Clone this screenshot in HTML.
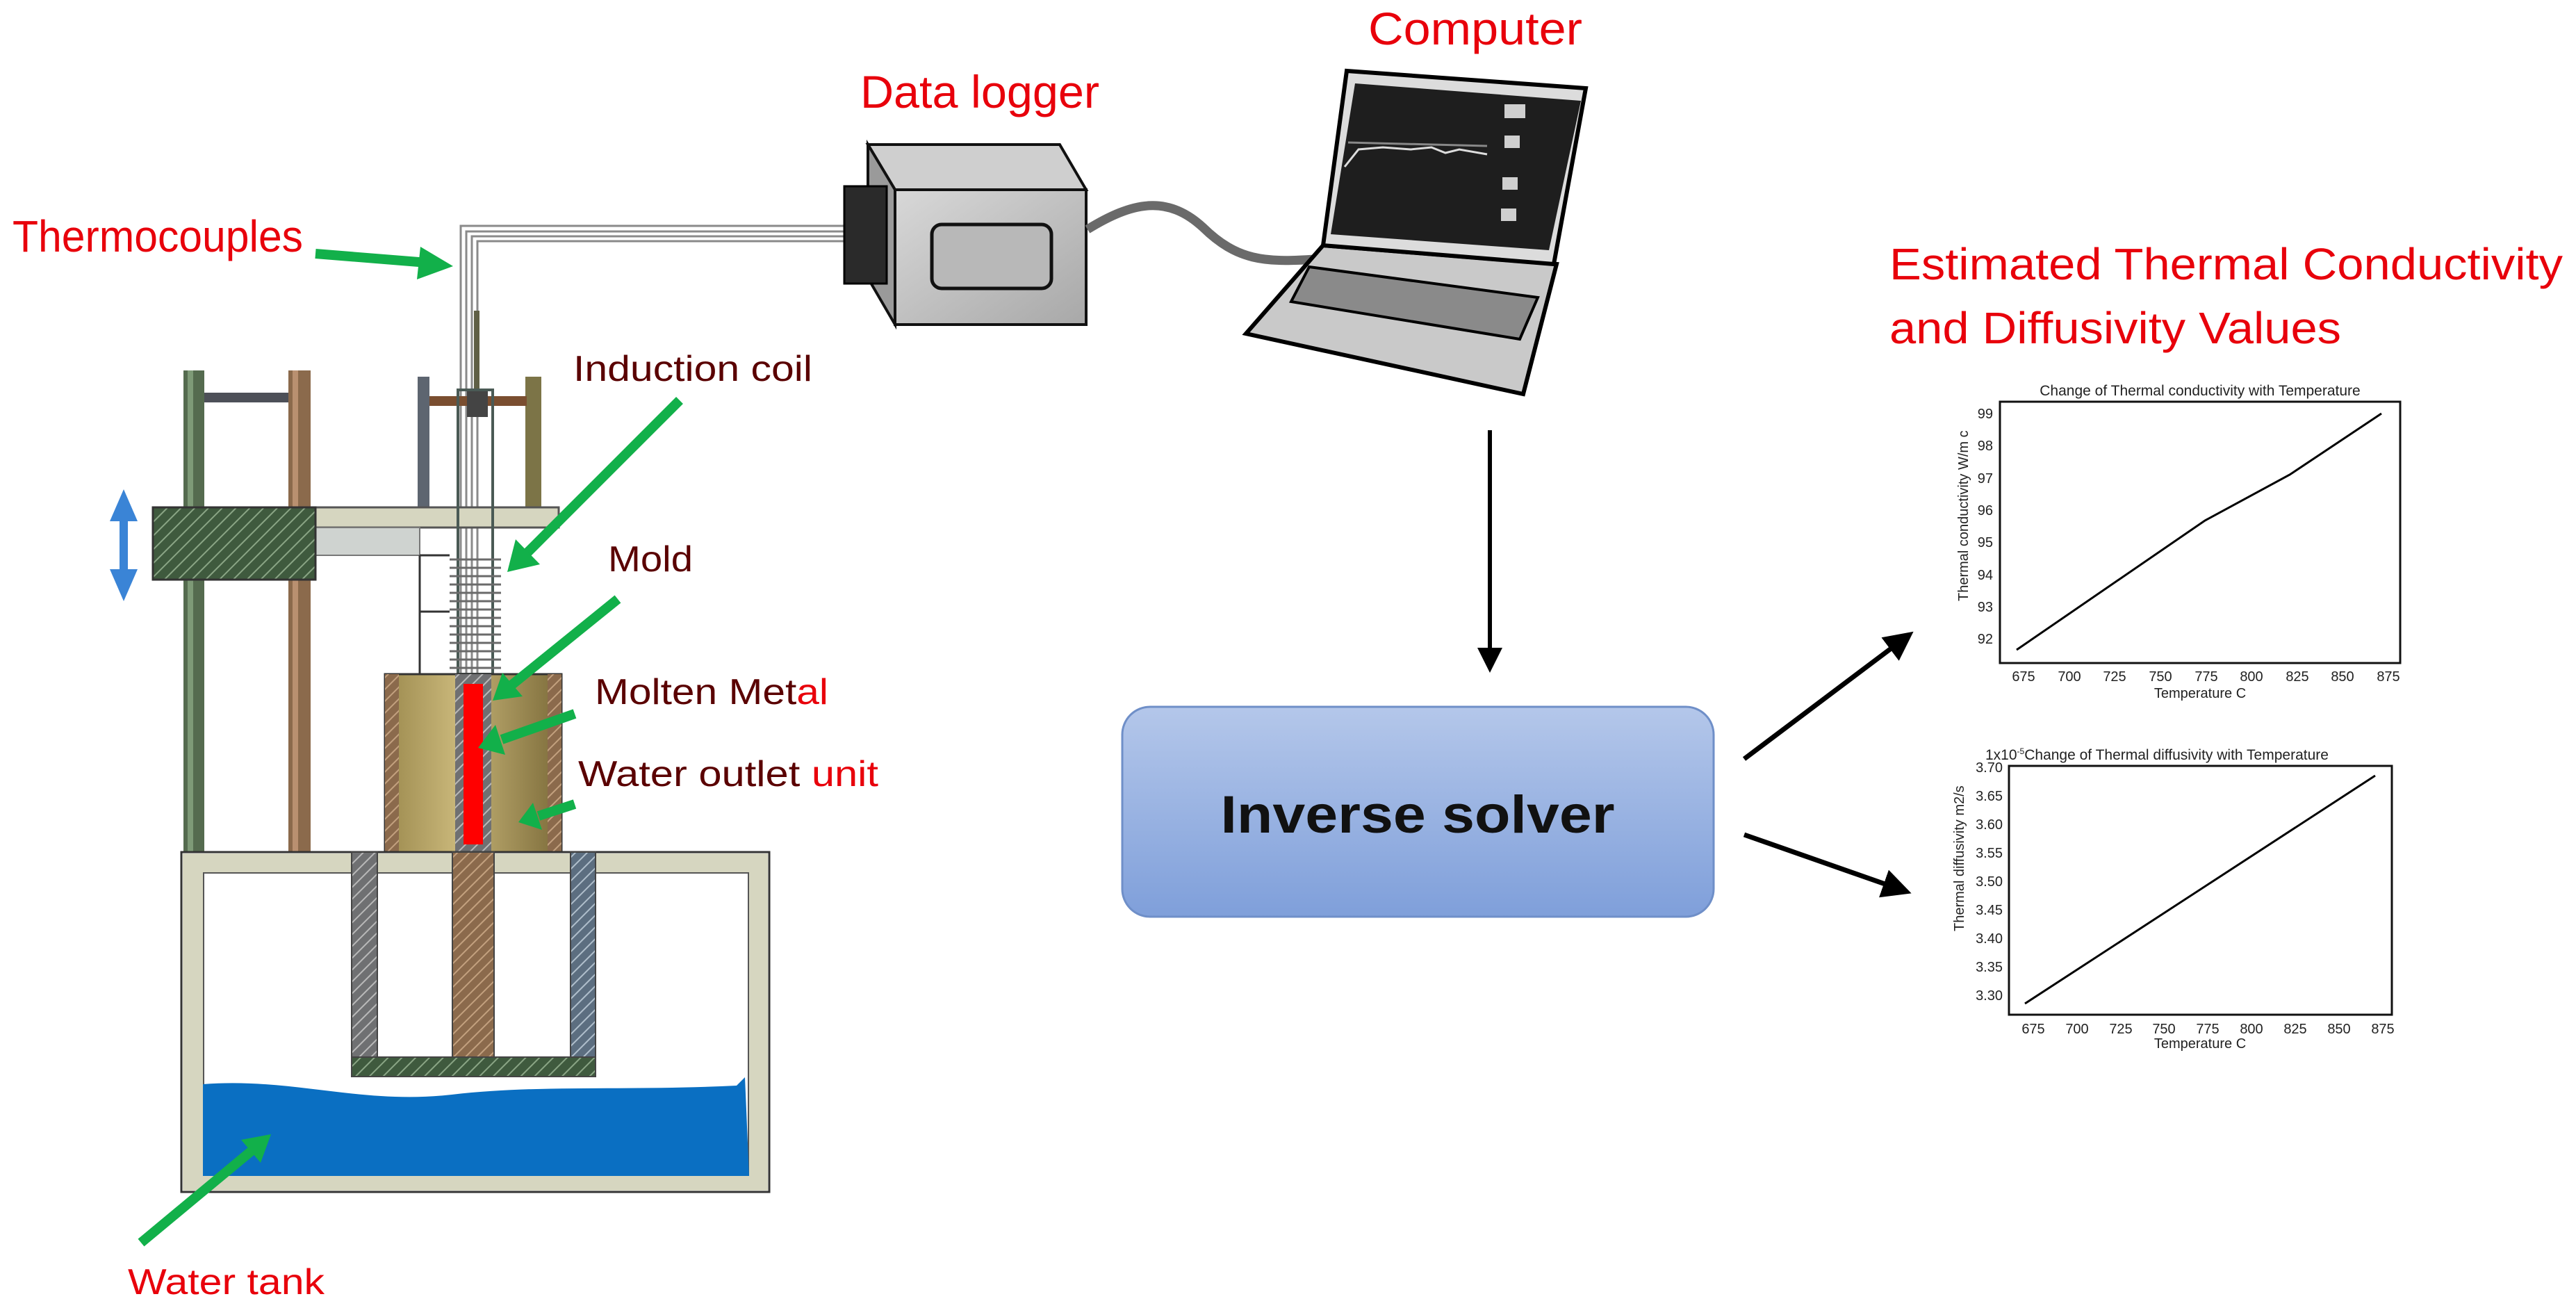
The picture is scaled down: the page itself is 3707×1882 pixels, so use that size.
<!DOCTYPE html>
<html><head><meta charset="utf-8"><style>
html,body{margin:0;padding:0;background:#fff;}
svg{display:block;}
text{font-family:"Liberation Sans",sans-serif;}
</style></head><body>
<svg width="3707" height="1882" viewBox="0 0 3707 1882" xmlns="http://www.w3.org/2000/svg">
<defs>
<pattern id="hg" width="14" height="14" patternUnits="userSpaceOnUse" patternTransform="rotate(45)"><rect width="14" height="14" fill="#3f5a3e"/><line x1="0" y1="0" x2="0" y2="14" stroke="#8aa585" stroke-width="4"/></pattern>
<pattern id="hgray" width="12" height="12" patternUnits="userSpaceOnUse" patternTransform="rotate(45)"><rect width="12" height="12" fill="#6f7072"/><line x1="0" y1="0" x2="0" y2="12" stroke="#b9b9b9" stroke-width="4"/></pattern>
<pattern id="hbr" width="12" height="12" patternUnits="userSpaceOnUse" patternTransform="rotate(45)"><rect width="12" height="12" fill="#8b6a4c"/><line x1="0" y1="0" x2="0" y2="12" stroke="#c3a17f" stroke-width="4"/></pattern>
<pattern id="hbl" width="12" height="12" patternUnits="userSpaceOnUse" patternTransform="rotate(45)"><rect width="12" height="12" fill="#5c6e80"/><line x1="0" y1="0" x2="0" y2="12" stroke="#b0bfcc" stroke-width="4"/></pattern>
<linearGradient id="gold" x1="0" x2="1"><stop offset="0" stop-color="#9c8a4e"/><stop offset="0.4" stop-color="#c8b679"/><stop offset="1" stop-color="#7d6c3a"/></linearGradient>
<linearGradient id="solver" x1="0" y1="0" x2="0" y2="1"><stop offset="0" stop-color="#b4c7ea"/><stop offset="1" stop-color="#7f9fda"/></linearGradient>
<linearGradient id="box" x1="0" y1="0" x2="1" y2="1"><stop offset="0" stop-color="#d8d8d8"/><stop offset="1" stop-color="#a8a8a8"/></linearGradient>
<marker id="ab" markerWidth="6" markerHeight="6" refX="5" refY="3" orient="auto" markerUnits="strokeWidth"><path d="M0,0 L6,3 L0,6 z" fill="#000"/></marker>
</defs>

<!-- ===== Labels ===== -->
<text x="18" y="362" font-size="64" fill="#e8000b" textLength="418" lengthAdjust="spacingAndGlyphs">Thermocouples</text>
<text x="1238" y="155" font-size="66" fill="#e8000b" textLength="344" lengthAdjust="spacingAndGlyphs">Data logger</text>
<text x="1969" y="64" font-size="66" fill="#e8000b" textLength="308" lengthAdjust="spacingAndGlyphs">Computer</text>
<text x="2719" y="402" font-size="64" fill="#e8000b" textLength="969" lengthAdjust="spacingAndGlyphs">Estimated Thermal Conductivity</text>
<text x="2719" y="494" font-size="64" fill="#e8000b" textLength="650" lengthAdjust="spacingAndGlyphs">and Diffusivity Values</text>
<text x="825" y="548" font-size="52" fill="#5a0000" textLength="344" lengthAdjust="spacingAndGlyphs">Induction coil</text>
<text x="875" y="822" font-size="52" fill="#5a0000" textLength="122" lengthAdjust="spacingAndGlyphs">Mold</text>
<text x="856" y="1013" font-size="52" fill="#5a0000" textLength="336" lengthAdjust="spacingAndGlyphs">Molten Met<tspan fill="#e8000b">al</tspan></text>
<text x="832" y="1131" font-size="52" fill="#5a0000" textLength="432" lengthAdjust="spacingAndGlyphs">Water outlet <tspan fill="#e8000b">unit</tspan></text>
<text x="184" y="1862" font-size="52" fill="#e8000b" textLength="283" lengthAdjust="spacingAndGlyphs">Water tank</text>

<!-- ===== Apparatus ===== -->
<g fill="none" stroke="#8a8a8a" stroke-width="3">
<path d="M663,980 V325 H1215"/><path d="M671,980 V333 H1215"/><path d="M679,980 V340 H1215"/><path d="M687,980 V347 H1215"/>
</g>
<rect x="264" y="533" width="30" height="693" fill="#556b4f"/><rect x="270" y="533" width="8" height="693" fill="#7e9a77"/>
<rect x="415" y="533" width="32" height="693" fill="#8b6a4c"/><rect x="421" y="533" width="8" height="693" fill="#b99070"/>
<rect x="294" y="565" width="121" height="14" fill="#4d5058"/>
<rect x="601" y="542" width="17" height="190" fill="#5d6570"/>
<rect x="756" y="542" width="23" height="190" fill="#7c7447"/>
<rect x="618" y="570" width="140" height="14" fill="#7a4e30"/>
<rect x="682" y="447" width="8" height="140" fill="#5f5f45"/>
<rect x="672" y="560" width="30" height="40" fill="#444"/>
<rect x="454" y="730" width="350" height="29" fill="#d6d6c0" stroke="#555" stroke-width="3"/>
<rect x="454" y="759" width="150" height="40" fill="#cfd3d0" stroke="#777" stroke-width="2"/>
<rect x="220" y="730" width="234" height="104" fill="url(#hg)" stroke="#333" stroke-width="3"/>
<g fill="#3a84d6"><polygon points="178,704 158,750 198,750"/><polygon points="178,865 158,819 198,819"/><rect x="172" y="745" width="12" height="80"/></g>
<rect x="659" y="561" width="50" height="409" fill="none" stroke="#4a5a55" stroke-width="4"/>
<g stroke="#6a6a6a" stroke-width="3">
<line x1="647" y1="805" x2="721" y2="805"/><line x1="647" y1="817" x2="721" y2="817"/><line x1="647" y1="829" x2="721" y2="829"/><line x1="647" y1="841" x2="721" y2="841"/><line x1="647" y1="853" x2="721" y2="853"/><line x1="647" y1="865" x2="721" y2="865"/><line x1="647" y1="877" x2="721" y2="877"/><line x1="647" y1="889" x2="721" y2="889"/><line x1="647" y1="901" x2="721" y2="901"/><line x1="647" y1="913" x2="721" y2="913"/><line x1="647" y1="925" x2="721" y2="925"/><line x1="647" y1="937" x2="721" y2="937"/><line x1="647" y1="949" x2="721" y2="949"/><line x1="647" y1="961" x2="721" y2="961"/>
</g>
<path d="M604,799 V970 M604,880 H647 M604,799 H647" stroke="#333" stroke-width="3" fill="none"/>
<rect x="554" y="970" width="254" height="256" fill="url(#gold)" stroke="#333" stroke-width="3"/>
<rect x="554" y="970" width="20" height="256" fill="url(#hbr)"/>
<rect x="788" y="970" width="20" height="256" fill="url(#hbr)"/>
<rect x="655" y="970" width="52" height="256" fill="url(#hgray)"/>
<rect x="667" y="984" width="28" height="231" fill="#ff0000"/>
<rect x="261" y="1226" width="846" height="489" fill="none" stroke="#333" stroke-width="3"/>
<rect x="263" y="1228" width="842" height="28" fill="#d6d6c0"/>
<rect x="263" y="1228" width="30" height="485" fill="#d6d6c0"/>
<rect x="1077" y="1228" width="28" height="485" fill="#d6d6c0"/>
<rect x="263" y="1690" width="842" height="23" fill="#d6d6c0"/>
<rect x="293" y="1256" width="784" height="434" fill="none" stroke="#555" stroke-width="2"/>
<path d="M292,1560 C420,1550 520,1590 650,1575 C780,1560 900,1570 1060,1562 L1072,1550 L1078,1692 L292,1692 Z" fill="#0a6fc2"/>
<rect x="506" y="1226" width="37" height="295" fill="url(#hgray)" stroke="#444" stroke-width="2"/>
<rect x="651" y="1226" width="60" height="295" fill="url(#hbr)" stroke="#444" stroke-width="2"/>
<rect x="821" y="1226" width="36" height="295" fill="url(#hbl)" stroke="#444" stroke-width="2"/>
<rect x="506" y="1521" width="351" height="28" fill="url(#hg)" stroke="#444" stroke-width="2"/>

<g stroke="#12b04a" stroke-width="14" fill="#12b04a">
<line x1="454" y1="365" x2="615" y2="378"/><polygon points="652,383 605,355 600,402" stroke="none"/>
<line x1="978" y1="576" x2="758" y2="796"/><polygon points="730,823 742,776 777,812" stroke="none"/>
<line x1="889" y1="862" x2="737" y2="985"/><polygon points="709,1008 723,968 752,1002" stroke="none"/>
<line x1="827" y1="1027" x2="722" y2="1064"/><polygon points="688,1076 713,1043 727,1086" stroke="none"/>
<line x1="827" y1="1157" x2="775" y2="1174"/><polygon points="746,1183 767,1155 780,1194" stroke="none"/>
<line x1="203" y1="1788" x2="363" y2="1655"/><polygon points="390,1632 347,1640 375,1673" stroke="none"/>
</g>

<!-- ===== Data logger ===== -->
<polygon points="1249,208 1525,208 1563,273 1288,273" fill="#cfcfcf" stroke="#111" stroke-width="4"/>
<polygon points="1249,208 1288,273 1288,467 1249,400" fill="#9a9a9a" stroke="#111" stroke-width="4"/>
<rect x="1288" y="273" width="275" height="194" fill="url(#box)" stroke="#111" stroke-width="4"/>
<rect x="1215" y="268" width="61" height="140" fill="#2a2a2a" stroke="#000" stroke-width="3"/>
<rect x="1341" y="323" width="172" height="92" rx="14" fill="#b8b8b8" stroke="#111" stroke-width="5"/>
<path d="M1565,330 C1630,290 1680,280 1731,327 C1780,375 1820,378 1892,373" fill="none" stroke="#6a6a6a" stroke-width="13"/>

<!-- ===== Laptop ===== -->
<polygon points="1904,353 2240,380 2192,567 1793,480" fill="#c9c9c9" stroke="#000" stroke-width="6"/>
<polygon points="1884,384 2213,428 2187,488 1858,434" fill="#8a8a8a" stroke="#000" stroke-width="4"/>
<polygon points="1938,102 2282,127 2236,380 1904,353" fill="#dcdcdc" stroke="#000" stroke-width="6"/>
<polygon points="1950,120 2275,145 2229,360 1915,337" fill="#1e1e1e"/>
<path d="M1935,240 L1955,215 L1990,212 L2030,215 L2060,212 L2080,220 L2100,215 L2140,222" fill="none" stroke="#ddd" stroke-width="3"/>
<line x1="1940" y1="205" x2="2140" y2="210" stroke="#888" stroke-width="3"/>
<g fill="#cfcfcf"><rect x="2165" y="195" width="22" height="18"/><rect x="2162" y="255" width="22" height="18"/><rect x="2160" y="300" width="22" height="18"/><rect x="2165" y="150" width="30" height="20"/></g>

<line x1="2144" y1="619" x2="2144" y2="962" stroke="#000" stroke-width="6" marker-end="url(#ab)"/>
<line x1="2510" y1="1092" x2="2748" y2="913" stroke="#000" stroke-width="7" marker-end="url(#ab)"/>
<line x1="2510" y1="1201" x2="2744" y2="1283" stroke="#000" stroke-width="7" marker-end="url(#ab)"/>

<rect x="1615" y="1017" width="851" height="302" rx="40" fill="url(#solver)" stroke="#6f8fc8" stroke-width="3"/>
<text x="2040" y="1198" font-size="76" font-weight="bold" fill="#111" text-anchor="middle" textLength="567" lengthAdjust="spacingAndGlyphs">Inverse solver</text>

<!-- ===== Chart 1 ===== -->
<g font-size="20" fill="#222">
<text x="3166" y="569" font-size="21" text-anchor="middle">Change of Thermal conductivity with Temperature</text>
<rect x="2878" y="578" width="576" height="376" fill="none" stroke="#111" stroke-width="3"/>
<polyline points="2902,935 3173,749 3295,683 3427,595" fill="none" stroke="#000" stroke-width="3"/>
<g text-anchor="end">
<text x="2868" y="602">99</text><text x="2868" y="648">98</text><text x="2868" y="695">97</text><text x="2868" y="741">96</text><text x="2868" y="787">95</text><text x="2868" y="834">94</text><text x="2868" y="880">93</text><text x="2868" y="926">92</text>
</g>
<g text-anchor="middle">
<text x="2912" y="980">675</text><text x="2978" y="980">700</text><text x="3043" y="980">725</text><text x="3109" y="980">750</text><text x="3175" y="980">775</text><text x="3240" y="980">800</text><text x="3306" y="980">825</text><text x="3371" y="980">850</text><text x="3437" y="980">875</text>
<text x="3166" y="1004">Temperature C</text>
</g>
<text transform="translate(2832,865) rotate(-90)">Thermal conductivity W/m c</text>
</g>

<!-- ===== Chart 2 ===== -->
<g font-size="20" fill="#222">
<text x="2857" y="1093" font-size="21">1x10<tspan font-size="12" dy="-8">-5</tspan><tspan dy="8">Change of Thermal diffusivity with Temperature</tspan></text>
<rect x="2891" y="1102" width="551" height="358" fill="none" stroke="#111" stroke-width="3"/>
<line x1="2914" y1="1444" x2="3418" y2="1116" stroke="#000" stroke-width="3"/>
<g text-anchor="end">
<text x="2882" y="1111">3.70</text><text x="2882" y="1152">3.65</text><text x="2882" y="1193">3.60</text><text x="2882" y="1234">3.55</text><text x="2882" y="1275">3.50</text><text x="2882" y="1316">3.45</text><text x="2882" y="1357">3.40</text><text x="2882" y="1398">3.35</text><text x="2882" y="1439">3.30</text>
</g>
<g text-anchor="middle">
<text x="2926" y="1487">675</text><text x="2989" y="1487">700</text><text x="3052" y="1487">725</text><text x="3114" y="1487">750</text><text x="3177" y="1487">775</text><text x="3240" y="1487">800</text><text x="3303" y="1487">825</text><text x="3366" y="1487">850</text><text x="3429" y="1487">875</text>
<text x="3166" y="1508">Temperature C</text>
</g>
<text transform="translate(2826,1340) rotate(-90)">Thermal diffusivity m2/s</text>
</g>
</svg>
</body></html>
